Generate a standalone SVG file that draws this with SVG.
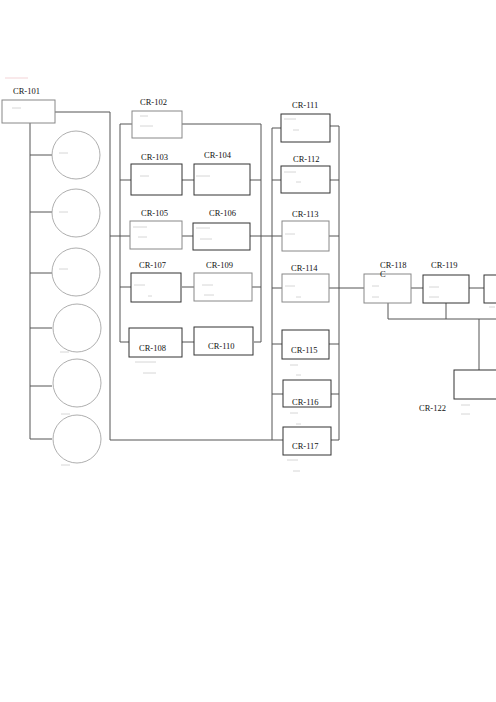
<svg xmlns="http://www.w3.org/2000/svg" width="496" height="702" viewBox="0 0 496 702">
<style>
.bg{fill:#fff}
.w{stroke:#555;stroke-width:1;fill:none}
.b{fill:#fff;stroke:#333;stroke-width:1}
.bg2{fill:#fff;stroke:#888;stroke-width:1}
.c{fill:#fff;stroke:#999;stroke-width:0.8}
.t{font-family:"Liberation Serif","Times New Roman",serif;font-size:8.5px;fill:#111}
.f{stroke:#ccc;stroke-width:0.8}
</style>
<rect class="bg" width="496" height="702"/>
<line x1="5" y1="78" x2="28" y2="78" stroke="#f0c8cc" stroke-width="0.8"/>
<g id="connectors">
<path class="w" d="M30 123V439M30 155H52M30 212H52M30 273H52M30 328H52M30 386H52M30 439H52"/>
<path class="w" d="M55 112H110V440H272"/>
<path class="w" d="M110 236H130M120 124V342M120 124H132M182 124H261V342M120 180H131M182 180H194M250 180H261M182 236H193M250 236H282M120 287H131M182 287H194M252 287H261M120 342H129M182 342H194M254 342H261"/>
<path class="w" d="M272 128V440M339 126V440M272 128H281M330 126H339M272 180H281M330 180H339M329 236H339M272 288H282M329 288H365M272 344H282M329 344H339M272 394H283M331 394H339M272 440H283M331 440H339"/>
<path class="w" d="M411 288H423M469 288H484M388 303V319M446 303V319M388 319H496M479 319V370"/>
</g>
<g id="CR-101"><rect class="bg2" x="2" y="100" width="53" height="23"/><text class="t" x="13" y="94">CR-101</text><line class="f" x1="12" y1="108" x2="21" y2="108"/></g>
<g id="circle-1"><circle class="c" cx="76" cy="155" r="24"/><line class="f" x1="59" y1="153" x2="68" y2="153"/></g>
<g id="circle-2"><circle class="c" cx="76" cy="213" r="24"/><line class="f" x1="59" y1="212" x2="68" y2="212"/></g>
<g id="circle-3"><circle class="c" cx="76" cy="272" r="24"/><line class="f" x1="59" y1="269" x2="68" y2="269"/></g>
<g id="circle-4"><circle class="c" cx="77" cy="328" r="24"/><line class="f" x1="60" y1="352" x2="69" y2="352"/></g>
<g id="circle-5"><circle class="c" cx="77" cy="383" r="24"/><line class="f" x1="61" y1="414" x2="70" y2="414"/></g>
<g id="circle-6"><circle class="c" cx="77" cy="439" r="24"/><line class="f" x1="61" y1="465" x2="70" y2="465"/></g>
<g id="CR-102"><rect class="bg2" x="132" y="111" width="50" height="27"/><text class="t" x="140" y="105">CR-102</text><line class="f" x1="140" y1="116" x2="148" y2="116"/><line class="f" x1="140" y1="126" x2="153" y2="126"/></g>
<g id="CR-103"><rect class="b" x="131" y="164" width="51" height="31"/><text class="t" x="141" y="160">CR-103</text><line class="f" x1="140" y1="176" x2="149" y2="176"/></g>
<g id="CR-104"><rect class="b" x="194" y="164" width="56" height="31"/><text class="t" x="204" y="158">CR-104</text><line class="f" x1="196" y1="176" x2="210" y2="176"/></g>
<g id="CR-105"><rect class="bg2" x="130" y="221" width="52" height="28"/><text class="t" x="141" y="216">CR-105</text><line class="f" x1="133" y1="227" x2="147" y2="227"/><line class="f" x1="138" y1="237" x2="147" y2="237"/></g>
<g id="CR-106"><rect class="b" x="193" y="223" width="57" height="27"/><text class="t" x="209" y="216">CR-106</text><line class="f" x1="196" y1="228" x2="210" y2="228"/><line class="f" x1="200" y1="239" x2="212" y2="239"/></g>
<g id="CR-107"><rect class="b" x="131" y="273" width="50" height="29"/><text class="t" x="139" y="268">CR-107</text><line class="f" x1="134" y1="285" x2="145" y2="285"/><line class="f" x1="148" y1="296" x2="152" y2="296"/></g>
<g id="CR-109"><rect class="bg2" x="194" y="273" width="58" height="28"/><text class="t" x="206" y="268">CR-109</text><line class="f" x1="202" y1="285" x2="213" y2="285"/><line class="f" x1="204" y1="295" x2="214" y2="295"/></g>
<g id="CR-108"><rect class="b" x="129" y="328" width="53" height="29"/><text class="t" x="139" y="351">CR-108</text><line class="f" x1="135" y1="362" x2="156" y2="362"/><line class="f" x1="143" y1="373" x2="156" y2="373"/></g>
<g id="CR-110"><rect class="b" x="194" y="327" width="59" height="28"/><text class="t" x="208" y="349">CR-110</text></g>
<g id="CR-111"><rect class="b" x="281" y="114" width="49" height="28"/><text class="t" x="292" y="108">CR-111</text><line class="f" x1="284" y1="119" x2="296" y2="119"/><line class="f" x1="293" y1="130" x2="299" y2="130"/></g>
<g id="CR-112"><rect class="b" x="281" y="166" width="49" height="27"/><text class="t" x="293" y="162">CR-112</text><line class="f" x1="284" y1="172" x2="296" y2="172"/><line class="f" x1="296" y1="182" x2="301" y2="182"/></g>
<g id="CR-113"><rect class="bg2" x="282" y="221" width="47" height="30"/><text class="t" x="292" y="217">CR-113</text><line class="f" x1="285" y1="234" x2="295" y2="234"/></g>
<g id="CR-114"><rect class="bg2" x="282" y="274" width="47" height="28"/><text class="t" x="291" y="271">CR-114</text><line class="f" x1="285" y1="286" x2="295" y2="286"/><line class="f" x1="296" y1="297" x2="301" y2="297"/></g>
<g id="CR-115"><rect class="b" x="282" y="330" width="47" height="29"/><text class="t" x="291" y="353">CR-115</text><line class="f" x1="290" y1="365" x2="298" y2="365"/><line class="f" x1="296" y1="375" x2="301" y2="375"/></g>
<g id="CR-116"><rect class="b" x="283" y="380" width="48" height="27"/><text class="t" x="292" y="405">CR-116</text><line class="f" x1="290" y1="413" x2="298" y2="413"/><line class="f" x1="296" y1="424" x2="301" y2="424"/></g>
<g id="CR-117"><rect class="b" x="283" y="427" width="48" height="28"/><text class="t" x="292" y="449">CR-117</text><line class="f" x1="287" y1="460" x2="298" y2="460"/><line class="f" x1="293" y1="471" x2="300" y2="471"/></g>
<g id="CR-118"><rect class="bg2" x="364" y="274" width="47" height="29"/><text class="t" x="380" y="268">CR-118</text><text class="t" x="380" y="277">C</text><line class="f" x1="372" y1="286" x2="379" y2="286"/><line class="f" x1="372" y1="297" x2="379" y2="297"/></g>
<g id="CR-119"><rect class="b" x="423" y="275" width="46" height="28"/><text class="t" x="431" y="268">CR-119</text><line class="f" x1="429" y1="287" x2="439" y2="287"/><line class="f" x1="429" y1="297" x2="439" y2="297"/></g>
<g id="box-120"><rect class="b" x="484" y="275" width="20" height="28"/><line class="f" x1="489" y1="307" x2="495" y2="307"/></g>
<g id="CR-122"><rect class="b" x="454" y="370" width="50" height="29"/><text class="t" x="419" y="411">CR-122</text><line class="f" x1="461" y1="405" x2="470" y2="405"/><line class="f" x1="461" y1="414" x2="470" y2="414"/></g>
</svg>
